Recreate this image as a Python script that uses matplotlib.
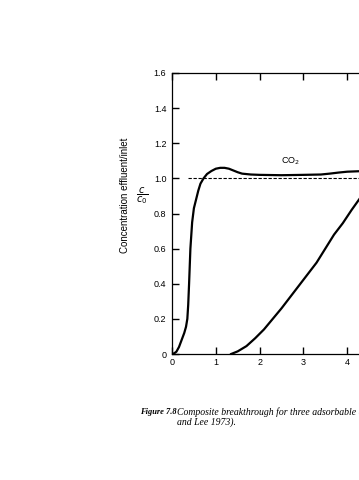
import matplotlib
matplotlib.use('Agg')
import matplotlib.pyplot as plt

# Curva do CO2 (primeira a sair)
co2_x = [0.0, 0.05, 0.1, 0.16, 0.22, 0.28, 0.32, 0.35, 0.37, 0.39, 0.42, 0.46, 0.5, 0.55,
         0.6, 0.65, 0.72, 0.8, 0.9, 1.0, 1.1, 1.2, 1.3, 1.4, 1.5, 1.6, 1.8, 2.0, 2.5,
         3.0, 3.4, 3.6, 3.8, 4.0, 4.2, 4.4]
co2_y = [0.0, 0.004, 0.013, 0.04, 0.08, 0.12, 0.155, 0.2, 0.28, 0.4, 0.6, 0.75, 0.83,
         0.88, 0.93, 0.97, 1.0, 1.025, 1.042, 1.055, 1.06, 1.06, 1.055, 1.045, 1.035,
         1.027, 1.022, 1.02, 1.018, 1.02, 1.022, 1.027, 1.033, 1.038, 1.04, 1.042]

# Segunda curva
c2_x = [1.35, 1.5, 1.7, 1.9, 2.1, 2.3, 2.5, 2.7, 2.9, 3.1, 3.3, 3.5, 3.7, 3.9, 4.1, 4.3, 4.5]
c2_y = [0.0, 0.015, 0.045, 0.09, 0.14, 0.2, 0.26, 0.325, 0.39, 0.455, 0.52, 0.6, 0.68,
        0.745, 0.82, 0.89, 0.95]

y_ticks = [0, 0.2, 0.4, 0.6, 0.8, 1.0, 1.2, 1.4, 1.6]
y_labels = ['0', '0.2', '0.4', '0.6', '0.8', '1.0', '1.2', '1.4', '1.6']
x_ticks = [0, 1, 2, 3, 4]

W, H = 359, 480
fig = plt.figure(figsize=(W / 100, H / 100), dpi=100)
px = 43.8  # pixels por unidade em x
ax = fig.add_axes([172 / W, (H - 354) / H, 6 * px / W, 281 / H])

ax.plot(co2_x, co2_y, color='black', lw=1.6)
ax.plot(c2_x, c2_y, color='black', lw=1.6)
ax.plot([0.37, 6], [1.0, 1.0], color='black', lw=0.8, ls=(0, (3, 1.5)))

ax.set_xlim(0, 6)
ax.set_ylim(0, 1.6)
ax.set_yticks(y_ticks)
ax.set_yticklabels(y_labels)
ax.set_xticks(x_ticks)
ax.tick_params(direction='in', length=5, width=1.0, labelsize=6.5, pad=4,
               top=True, right=False, labelfontfamily='Liberation Sans')
ax.tick_params(axis='x', pad=3)
for s in ax.spines.values():
    s.set_linewidth(0.9)

ax.text(2.7, 1.1, 'CO$_2$', fontsize=6.5, family='Liberation Sans', ha='center', va='center')

fig.text(125 / W, 1 - 195 / H, 'Concentration effluent/inlet', rotation=90,
         fontsize=7, family='Liberation Sans', ha='center', va='center')
fig.text(142 / W, 1 - 196 / H, r'$\dfrac{c}{c_0}$', fontsize=7, ha='center', va='center')

fig.text(140 / W, 1 - 412 / H, 'Figure 7.8', fontsize=6, family='Liberation Serif',
         style='italic', weight='bold', va='center')
fig.text(177 / W, 1 - 412 / H, 'Composite breakthrough for three adsorbable components (Cooney',
         fontsize=7, family='Liberation Serif', style='italic', va='center')
fig.text(177 / W, 1 - 422 / H, 'and Lee 1973).', fontsize=7, family='Liberation Serif',
         style='italic', va='center')

fig.savefig('out.png', dpi=100)
